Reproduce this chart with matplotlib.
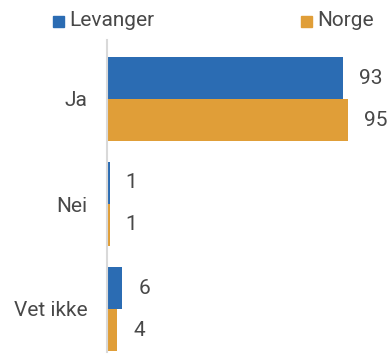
import numpy as np
import matplotlib.pyplot as plt
from matplotlib.patches import Rectangle

plt.rcParams['font.family'] = ['Roboto', 'DejaVu Sans']

categories = ['Ja', 'Nei', 'Vet ikke']
levanger = [93, 1, 6]
norge = [95, 1, 4]
series_names = ['Levanger', 'Norge']

blue = '#2b6cb3'
orange = '#e09e38'
text_col = '#484848'
fs = 15

W, H = 391, 358
fig = plt.figure(figsize=(W / 100, H / 100), dpi=100)

# axes placed in pixel terms: left spine at x=107, from y=40 to y=352
left, right, top, bottom = 107, 391, 40, 352
ax = fig.add_axes([left / W, 1 - bottom / H, (right - left) / W, (bottom - top) / H])

y = np.arange(len(categories))
h = 0.4
ax.barh(y - h / 2, levanger, height=h, color=blue)
ax.barh(y + h / 2, norge, height=h, color=orange)

ax.set_xlim(0, (right - left) / 2.54)
ax.set_ylim((bottom - 99) / 105, (top - 99) / 105)

for i in range(len(categories)):
    ax.annotate(str(levanger[i]), (levanger[i], y[i] - h / 2), xytext=(11.5, 0),
                textcoords='offset points', va='center', ha='left',
                fontsize=fs, color=text_col)
    ax.annotate(str(norge[i]), (norge[i], y[i] + h / 2), xytext=(11.5, 0),
                textcoords='offset points', va='center', ha='left',
                fontsize=fs, color=text_col)

ax.set_yticks(y)
ax.set_yticklabels(categories, fontsize=fs, color=text_col)
ax.tick_params(axis='y', length=0, pad=14)
ax.set_xticks([])
for s in ['top', 'right', 'bottom']:
    ax.spines[s].set_visible(False)
ax.spines['left'].set_color('#d9d9d9')
ax.spines['left'].set_linewidth(1.5)

# legend drawn by hand
for name, col, x0 in [(series_names[0], blue, 53), (series_names[1], orange, 301)]:
    fig.patches.append(Rectangle((x0 / W, 1 - 27 / H), 11 / W, 11 / H,
                                 color=col, transform=fig.transFigure))
    fig.text((x0 + 16) / W, 1 - 21 / H, name, fontsize=fs, color=text_col,
             va='center', ha='left')

fig.savefig('out.png', dpi=100)
